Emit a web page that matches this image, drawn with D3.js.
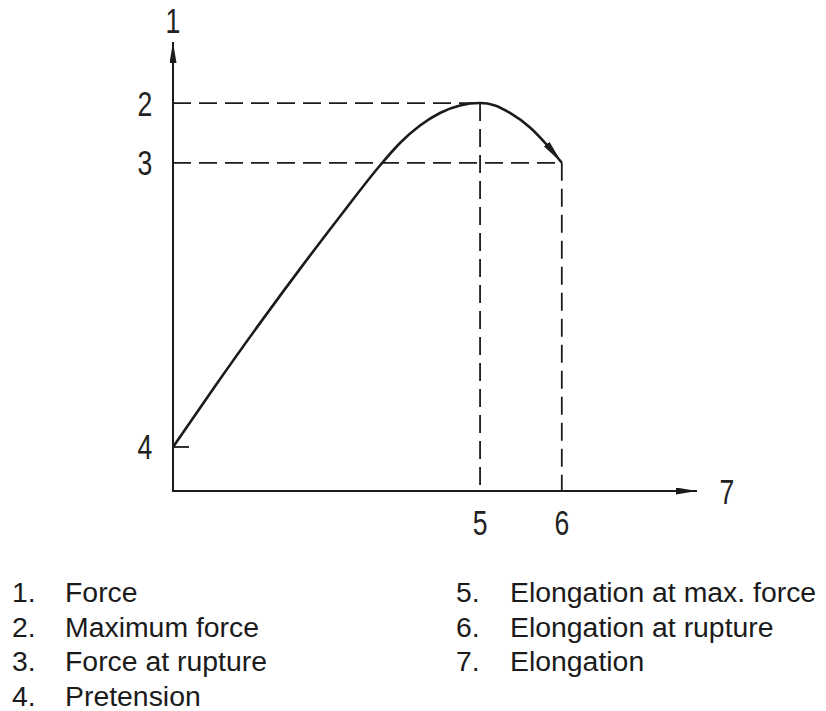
<!DOCTYPE html>
<html>
<head>
<meta charset="utf-8">
<script src="https://cdn.jsdelivr.net/npm/d3@7/dist/d3.min.js"></script>
<style>
  html, body { margin: 0; padding: 0; background: #fff; }
  svg { display: block; }
</style>
</head>
<body>
<svg id="chart" width="826" height="711"></svg>
<script>
// ---- Data (arbitrary units 0..100) ----
const curveElongation = [0, 8.02, 16.6, 24.81, 32.44, 39.5, 43.32, 47.14, 50.95, 54.77, 58.6, 61.45, 64.31, 68.13, 71.37, 74.2];
const curveForce      = [9.8, 23.34, 37.39, 50.36, 62.03, 72.49, 77.51, 81.4, 84.19, 85.86, 86.4, 85.86, 84.19, 80.96, 77.06, 73.1];

const pretension = 9.8;
const maxForce = 86.4;
const ruptureForce = 73.1;
const elongAtMax = 58.6;
const elongAtRupture = 74.2;

const yTickValues = [maxForce, ruptureForce, pretension];
const yTickLabels = ["2", "3", "4"];
const xTickValues = [elongAtMax, elongAtRupture];
const xTickLabels = ["5", "6"];
const yAxisLabel = "1";
const xAxisLabel = "7";

const legendLeftNums  = ["1.", "2.", "3.", "4."];
const legendLeftText  = ["Force", "Maximum force", "Force at rupture", "Pretension"];
const legendRightNums = ["5.", "6.", "7."];
const legendRightText = ["Elongation at max. force", "Elongation at rupture", "Elongation"];

// ---- Layout ----
const svg = d3.select("#chart");
const ink = "#1b1b1b";
const x = d3.scaleLinear().domain([0, 100]).range([173, 697]);
const y = d3.scaleLinear().domain([0, 100]).range([491, 42]);

const defs = svg.append("defs");
function marker(id, len, half) {
  defs.append("marker")
    .attr("id", id)
    .attr("markerUnits", "userSpaceOnUse")
    .attr("viewBox", `0 ${-half} ${len} ${2 * half}`)
    .attr("refX", len).attr("refY", 0)
    .attr("markerWidth", len).attr("markerHeight", 2 * half)
    .attr("orient", "auto")
    .append("path")
    .attr("d", `M0,${-half}L${len},0L0,${half}Z`)
    .attr("fill", ink);
}
marker("axisArrow", 21, 3.5);
marker("curveArrow", 24, 3.6);

const g = svg.append("g");

// Dashed reference lines
const dash = "18,8";
function dashed(x1, y1, x2, y2) {
  g.append("line").attr("x1", x1).attr("y1", y1).attr("x2", x2).attr("y2", y2)
    .attr("stroke", ink).attr("stroke-width", 1.8).attr("stroke-dasharray", dash);
}
dashed(x(0), y(maxForce), x(elongAtMax), y(maxForce));
dashed(x(0), y(ruptureForce), x(elongAtRupture), y(ruptureForce));
dashed(x(elongAtMax), y(maxForce), x(elongAtMax), y(0));
dashed(x(elongAtRupture), y(ruptureForce), x(elongAtRupture), y(0));

// Pretension tick
g.append("line").attr("x1", x(0)).attr("x2", x(0) + 16)
  .attr("y1", y(pretension)).attr("y2", y(pretension))
  .attr("stroke", ink).attr("stroke-width", 1.8);

// Axes with arrows
g.append("line").attr("x1", x(0)).attr("y1", y(0)).attr("x2", x(0)).attr("y2", y(100))
  .attr("stroke", ink).attr("stroke-width", 2).attr("marker-end", "url(#axisArrow)");
g.append("line").attr("x1", x(0) - 1).attr("y1", y(0)).attr("x2", x(100)).attr("y2", y(0))
  .attr("stroke", ink).attr("stroke-width", 2).attr("marker-end", "url(#axisArrow)");

// Curve
const pts = curveElongation.map((e, i) => [e, curveForce[i]]);
const line = d3.line().x(d => x(d[0])).y(d => y(d[1])).curve(d3.curveMonotoneX);
g.append("path").attr("d", line(pts))
  .attr("fill", "none").attr("stroke", ink).attr("stroke-width", 2.6)
  .attr("stroke-linejoin", "round")
  .attr("marker-end", "url(#curveArrow)");

// Chart labels (narrow technical lettering)
const labFont = "'Liberation Sans', Arial, sans-serif";
function lab(t, cx, baseline) {
  g.append("text")
    .attr("transform", `translate(${cx},${baseline}) scale(0.76,1)`)
    .attr("text-anchor", "middle")
    .attr("font-family", labFont).attr("font-size", 35)
    .attr("fill", "#222").text(t);
}
lab(yAxisLabel, x(0), 33);
yTickValues.forEach((v, i) => lab(yTickLabels[i], 145, y(v) + 12.5));
xTickValues.forEach((v, i) => lab(xTickLabels[i], x(v), 535));
lab(xAxisLabel, 727, y(0) + 13);

// Legend
const legFont = "'Liberation Sans', Arial, sans-serif";
function legendCol(nums, texts, nx, tx) {
  nums.forEach((n, i) => {
    const by = 602 + i * 34.5;
    g.append("text").attr("x", nx).attr("y", by)
      .attr("font-family", legFont).attr("font-size", 28.4).attr("fill", ink).text(n);
    g.append("text").attr("x", tx).attr("y", by)
      .attr("font-family", legFont).attr("font-size", 28.4).attr("fill", ink).text(texts[i]);
  });
}
legendCol(legendLeftNums, legendLeftText, 12, 65);
legendCol(legendRightNums, legendRightText, 456, 510);
</script>
</body>
</html>
